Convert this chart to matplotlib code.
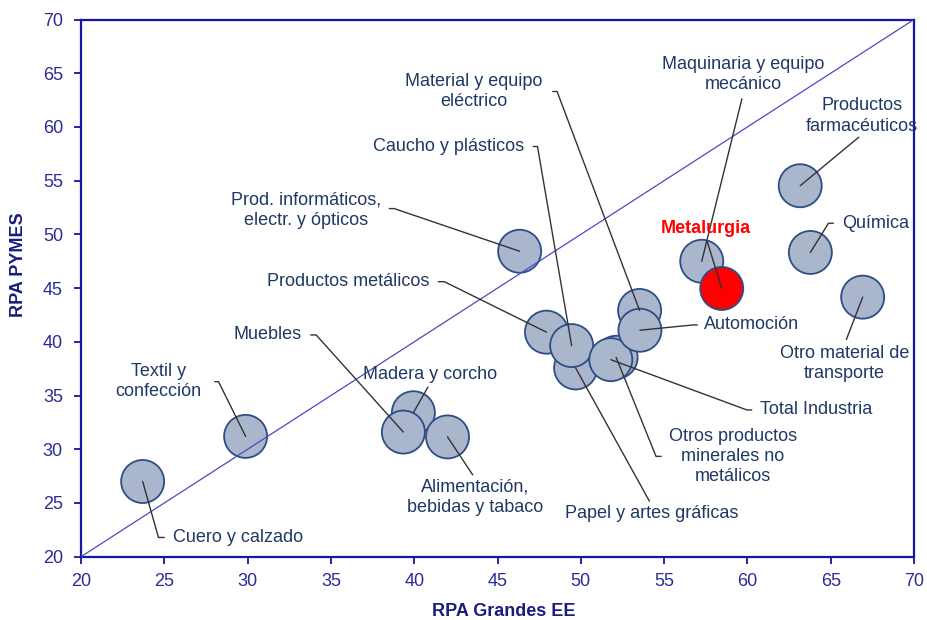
import matplotlib
matplotlib.use("Agg")
import matplotlib.pyplot as plt

plt.rcParams['font.family'] = ['Liberation Sans', 'DejaVu Sans']

# ---------------- data ----------------
sectors = [
    "Cuero y calzado", "Textil y\nconfección", "Madera y corcho", "Muebles",
    "Alimentación,\nbebidas y tabaco", "Prod. informáticos,\nelectr. y ópticos",
    "Productos metálicos", "Papel y artes gráficas", "Caucho y plásticos",
    "Otros productos\nminerales no\nmetálicos", "Total Industria",
    "Material y equipo\neléctrico", "Automoción", "Maquinaria y equipo\nmecánico",
    "Metalurgia", "Productos\nfarmacéuticos", "Química", "Otro material de\ntransporte",
]
rpa_grandes = [23.7, 29.88, 39.95, 39.35, 42.0, 46.33, 47.94, 49.69, 49.45,
               52.12, 51.80, 53.53, 53.55, 57.26, 58.46, 63.17, 63.78, 66.92]
rpa_pymes = [27.0, 31.2, 33.4, 31.6, 31.15, 48.43, 40.9, 37.57, 39.65,
             38.56, 38.34, 42.92, 41.08, 47.5, 44.97, 54.53, 48.32, 44.16]
highlight = "Metalurgia"

x_ticks = [20, 25, 30, 35, 40, 45, 50, 55, 60, 65, 70]
y_ticks = [20, 25, 30, 35, 40, 45, 50, 55, 60, 65, 70]
diag = [20, 70]

# ---------------- label layout ----------------
# (x, y, ha, va, relpos, angleA, armA_pt, shrinkA_pt)
label_layout = [
    (25.50, 21.79, 'left', 'center', (0, 0.5), 180, 14.2, 6),
    (24.65, 36.29, 'center', 'center', (1, 0.5), 0, 17.0, 9.5),
    (40.95, 36.92, 'center', 'center', (0.5, 0), 0, 0, 3),
    (33.25, 40.64, 'right', 'center', (1, 0.5), 0, 14.4, 6.5),
    (43.65, 25.56, 'center', 'center', (0.5, 1), 0, 0, 3),
    (33.50, 52.23, 'center', 'center', (1, 0.55), 0, 13.2, 6),
    (40.91, 45.60, 'right', 'center', (1, 0.5), 0, 14.9, 6.5),
    (54.24, 24.04, 'center', 'center', (0.5, 1), 0, 0, 3),
    (46.59, 58.18, 'right', 'center', (1, 0.5), 0, 13.5, 6.7),
    (59.11, 29.34, 'center', 'center', (0, 0.5), 180, 12.5, 5.3),
    (60.76, 33.66, 'left', 'center', (0, 0.5), 180, 13.2, 6),
    (43.59, 63.30, 'center', 'center', (1, 0.5), 0, 14.4, 7.2),
    (57.41, 41.57, 'left', 'center', (0, 0.5), 180, 11.5, 5),
    (59.75, 64.85, 'center', 'center', (0.5, 0), 0, 0, 4),
    (57.50, 50.58, 'center', 'center', (0.5, 0), 0, 0, 4),
    (66.88, 61.03, 'center', 'center', (0.5, 0), 0, 0, 3),
    (65.66, 51.04, 'left', 'center', (0, 0.5), 180, 13.2, 6),
    (65.82, 38.00, 'center', 'center', (0.5, 1), 0, 0, 4),
]

# ---------------- styles ----------------
spine_c = '#1616A0'
tick_c = '#2B2B99'
axlab_c = '#1B1B80'
text_c = '#1F3864'
fill_c = '#A9B6CB'
edge_c = '#2E4D86'
red_c = '#FF0000'

fig = plt.figure(figsize=(9.28, 6.2), dpi=100)
ax = fig.add_axes([0.0873, 0.1021, 0.8976, 0.8664])

colors = [red_c if s == highlight else fill_c for s in sectors]
ax.scatter(rpa_grandes, rpa_pymes, s=960, c=colors, edgecolors=edge_c,
           linewidths=1.3, zorder=2, clip_on=False)

ax.plot(diag, diag, color='#4A4AC4', lw=0.9, zorder=3)

for s, gx, py, lay in zip(sectors, rpa_grandes, rpa_pymes, label_layout):
    lx, ly, ha, va, rp, ang, arm, shr = lay
    is_h = (s == highlight)
    ax.annotate(
        s, xy=(gx, py), xytext=(lx, ly), textcoords='data',
        ha=ha, va=va, fontsize=13, linespacing=1.25,
        color=red_c if is_h else text_c,
        fontweight='bold' if is_h else 'normal',
        annotation_clip=False, zorder=4,
        arrowprops=dict(arrowstyle='-', color='#333333', lw=1.0,
                        connectionstyle=f"arc,angleA={ang},armA={arm},angleB=0,armB=0,rad=0",
                        relpos=rp, patchA=None, shrinkA=shr, shrinkB=0),
    )

ax.set_xlim(20, 70)
ax.set_ylim(20, 70)
ax.set_xticks(x_ticks)
ax.set_yticks(y_ticks)
ax.tick_params(axis='both', direction='out', length=5, width=1.3, color=spine_c,
               labelsize=13, labelcolor=tick_c)
ax.tick_params(axis='x', pad=7)
ax.tick_params(axis='y', pad=8)

for sp in ax.spines.values():
    sp.set_color(spine_c)
    sp.set_linewidth(1.6)

ax.set_xlabel("RPA Grandes EE", fontsize=13, fontweight='bold', color=axlab_c)
ax.set_ylabel("RPA PYMES", fontsize=13, fontweight='bold', color=axlab_c)
ax.xaxis.set_label_coords(0.507, -0.086)
ax.yaxis.set_label_coords(-0.065, 0.543)

fig.savefig("out.png", dpi=100)
